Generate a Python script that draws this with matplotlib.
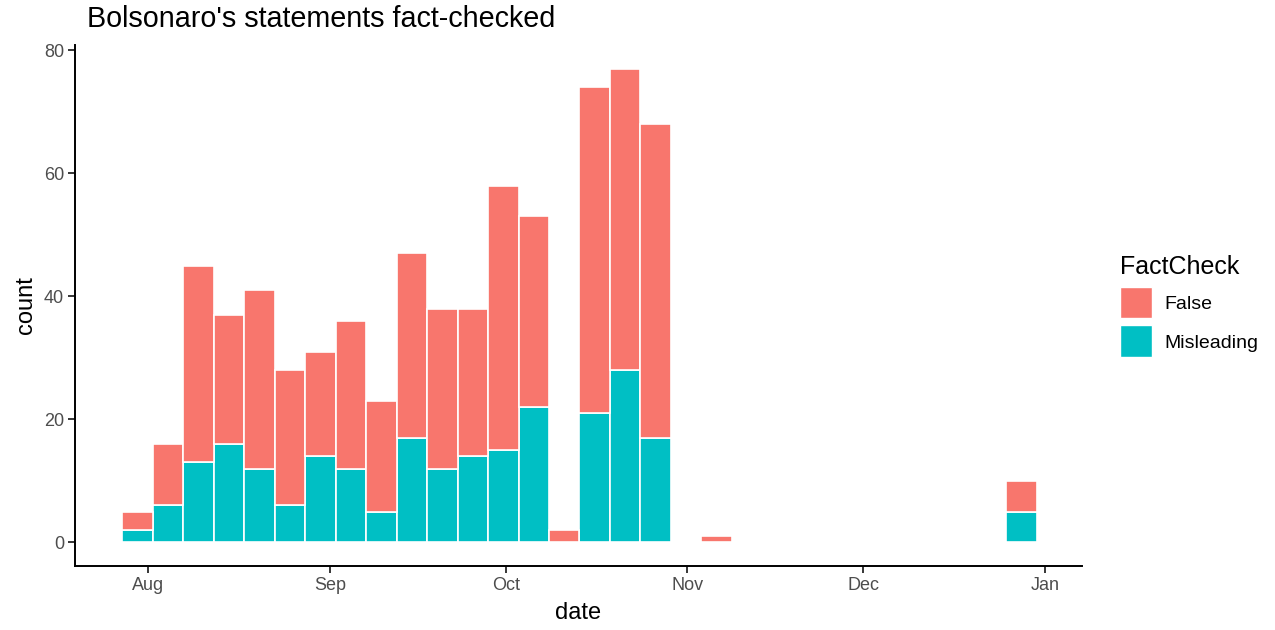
import matplotlib.pyplot as plt
import matplotlib.dates as mdates
from matplotlib.patches import Patch
import numpy as np
import datetime as dt

# weekly-ish histogram bins (30 bins, ggplot default)
first_bin = dt.datetime(2018, 7, 27, 14)
bin_days = 5.2
false_counts = [3, 10, 32, 21, 29, 22, 17, 24, 18, 30, 26, 24, 43, 31, 2,
                53, 49, 51, 0, 1, 0, 0, 0, 0, 0, 0, 0, 0, 0, 5]
misleading_counts = [2, 6, 13, 16, 12, 6, 14, 12, 5, 17, 12, 14, 15, 22, 0,
                     21, 28, 17, 0, 0, 0, 0, 0, 0, 0, 0, 0, 0, 0, 5]
month_ticks = [dt.datetime(2018, m, 1) for m in (8, 9, 10, 11, 12)] + [dt.datetime(2019, 1, 1)]

red = '#F8766D'
teal = '#00BFC4'
plt.rcParams['font.family'] = ['Liberation Sans', 'DejaVu Sans']

fig = plt.figure(figsize=(12.75, 6.3), dpi=100)
ax = fig.add_axes([75 / 1275, 1 - 566 / 630, (1082 - 75) / 1275, (566 - 45) / 630])

start = mdates.date2num(first_bin)
lefts = start + bin_days * np.arange(len(false_counts))
mis = np.array(misleading_counts)
fal = np.array(false_counts)

ax.bar(lefts, mis, width=bin_days, align='edge', color=teal,
       edgecolor='white', linewidth=1.2)
ax.bar(lefts, fal, width=bin_days, bottom=mis, align='edge', color=red,
       edgecolor='white', linewidth=1.2)

ax.set_xlim(mdates.date2num(dt.datetime(2018, 7, 19, 13)),
            mdates.date2num(dt.datetime(2019, 1, 7, 7)))
ax.set_ylim(-3.85, 80.85)
ax.set_yticks([0, 20, 40, 60, 80])
ax.set_xticks(month_ticks)
ax.xaxis.set_major_formatter(mdates.DateFormatter('%b'))

for s in ['top', 'right']:
    ax.spines[s].set_visible(False)
for s in ['left', 'bottom']:
    ax.spines[s].set_linewidth(1.4)
ax.tick_params(length=5, width=1.1, labelsize=13, labelcolor='#4D4D4D', pad=3)

ax.set_xlabel('date', fontsize=17, labelpad=6)
ax.set_ylabel('count', fontsize=17, labelpad=5)
fig.text(87 / 1275, 1 - 19 / 630, "Bolsonaro's statements fact-checked",
         fontsize=20.7, va='center', ha='left')

handles = [Patch(facecolor=red, edgecolor='white'),
           Patch(facecolor=teal, edgecolor='white')]
leg = fig.legend(handles, ['False', 'Misleading'], title='FactCheck',
                 loc='upper left', bbox_to_anchor=(1102 / 1275, 1 - 238 / 630),
                 frameon=False, fontsize=14, title_fontsize=18,
                 handlelength=1.65, handleheight=2.15, handletextpad=0.65,
                 labelspacing=0.36, alignment='left')

fig.savefig('out.png', dpi=100)
